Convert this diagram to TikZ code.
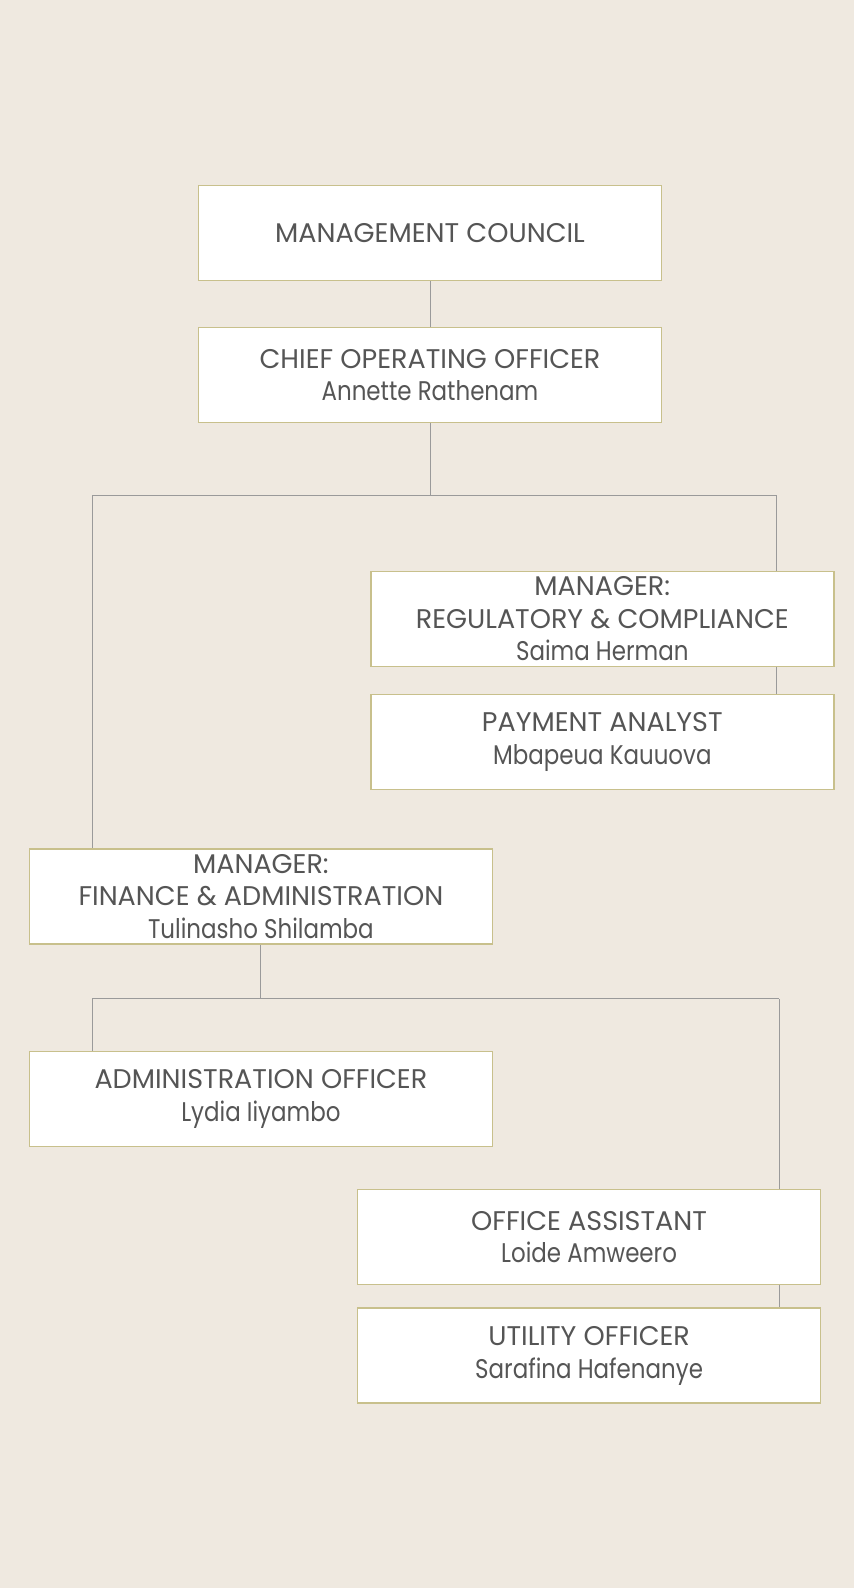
\documentclass[tikz,border=0pt]{standalone}
\usepackage{fontspec}
\setmainfont{Poppins}
\newfontfamily\personfont{Poppins}[FakeStretch=0.85]
\newcommand{\person}[1]{{\personfont #1}}
\usetikzlibrary{positioning}
\definecolor{PaperBack}{HTML}{EFE9E0}
\definecolor{BoxEdge}{HTML}{C8C08C}
\definecolor{LinkGrey}{HTML}{9A9A9A}
\definecolor{TextGrey}{HTML}{555555}
\tikzset{every node/.style={font=\fontsize{27}{32.5}\selectfont,text=TextGrey},
 orgbox/.style={draw=BoxEdge,line width=1.5pt,fill=white,minimum width=463pt,
 minimum height=95pt,align=center,inner sep=0pt},
 link/.style={draw=LinkGrey,line width=1pt}}

\begin{document}
\begin{tikzpicture}[x=1pt,y=-1pt]
\fill[PaperBack] (0,0) rectangle (854,1588);
\useasboundingbox (0,0) rectangle (854,1588);
% top of the chart
\node[orgbox] (council) at (430,233) {MANAGEMENT COUNCIL};
\node[orgbox,below=45.6pt of council] (coo) {CHIEF OPERATING OFFICER\\\person{Annette Rathenam}};
\node[orgbox] (reg) at (602.3,619) {MANAGER:\\REGULATORY \& COMPLIANCE\\\person{Saima Herman}};
\node[orgbox,below=26.3pt of reg] (analyst) {PAYMENT ANALYST\\\person{Mbapeua Kauuova}};
\node[orgbox] (fin) at (260.9,896.5) {MANAGER:\\FINANCE \& ADMINISTRATION\\\person{Tulinasho Shilamba}};
% finance branch
\node[orgbox] (admin) at (260.9,1099.1) {ADMINISTRATION OFFICER\\\person{Lydia Iiyambo}};
\node[orgbox] (assist) at (589.1,1236.9) {OFFICE ASSISTANT\\\person{Loide Amweero}};
\node[orgbox,below=22.3pt of assist] (utility) {UTILITY OFFICER\\\person{Sarafina Hafenanye}};
\coordinate (busL) at (92.2,495.4);
\coordinate (busR) at (776,495.4);
\coordinate (finL) at (92.2,998.9);
\coordinate (finR) at (779,998.9);
\draw[link] (council) -- (coo);
\draw[link] (coo.south) -- (coo.south |- busL);
\draw[link] (busL) -- (busR);
\draw[link] (busR) -- (busR |- reg.north);
\draw[link] (busR |- reg.south) -- (busR |- analyst.north);
\draw[link] (busL) -- (busL |- fin.north);
\draw[link] (fin.south) -- (fin.south |- finL);
\draw[link] (finL) -- (finR);
\draw[link] (finL) -- (finL |- admin.north);
\draw[link] (finR) -- (finR |- assist.north);
\draw[link] (finR |- assist.south) -- (finR |- utility.north);
\end{tikzpicture}
\end{document}
